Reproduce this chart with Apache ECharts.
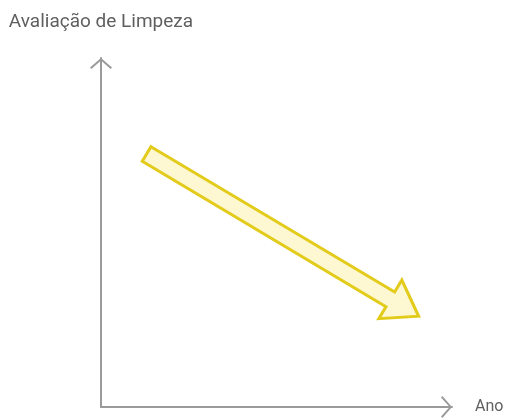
<!DOCTYPE html>
<html>
<head>
<meta charset="utf-8">
<script src="https://cdn.jsdelivr.net/npm/echarts@6/dist/echarts.min.js"></script>
<style>
  html, body { margin: 0; padding: 0; background: #fff; }
  #chart { width: 507px; height: 420px; }
</style>
</head>
<body>
<div id="chart"></div>
<script>
// trend arrow: start and end of the decline (data coords, axes 0..10)
const trendYears = [1.3, 9.05]
const trendScores = [7.25, 2.6]
const yAxisName = 'Avaliação de Limpeza'
const xAxisName = 'Ano'

const chevron = 'path://M0,9.6 L11,0 L22,9.6 L20.6,11 L11,2.4 L1.4,11 Z'

const chart = echarts.init(document.getElementById('chart'))

const axisCommon = {
  type: 'value',
  min: 0,
  max: 10,
  axisLine: {
    show: true,
    symbol: ['none', chevron],
    symbolSize: [22, 11],
    symbolOffset: [0, -5.5],
    lineStyle: { color: '#9a9a9a', width: 2 }
  },
  axisTick: { show: false },
  axisLabel: { show: false },
  splitLine: { show: false }
}

chart.setOption({
  animation: false,
  grid: { left: 101, right: 55, top: 58, bottom: 13 },
  xAxis: Object.assign({}, axisCommon, {
    name: xAxisName,
    nameGap: 23,
    nameTextStyle: { color: '#5f5f5f', fontSize: 16, fontFamily: 'Roboto' }
  }),
  yAxis: Object.assign({}, axisCommon, {
    name: yAxisName,
    nameGap: 26,
    nameTextStyle: { color: '#5f5f5f', fontSize: 19, fontFamily: 'Roboto' }
  }),
  series: [{
    type: 'custom',
    data: [[trendYears[0], trendScores[0], trendYears[1], trendScores[1]]],
    renderItem: (params, api) => {
      const p0 = api.coord([api.value(0), api.value(1)])
      const p1 = api.coord([api.value(2), api.value(3)])
      const dx = p1[0] - p0[0]
      const dy = p1[1] - p0[1]
      const len = Math.sqrt(dx * dx + dy * dy)
      const ux = dx / len, uy = dy / len
      const nx = -uy, ny = ux
      const shaftW = 8.5, headW = 22.5, headL = 33
      const bx = p1[0] - ux * headL, by = p1[1] - uy * headL
      const pt = (x, y, w) => [x + nx * w, y + ny * w]
      const points = [
        pt(p0[0], p0[1], -shaftW),
        pt(bx, by, -shaftW),
        pt(bx, by, -headW),
        p1,
        pt(bx, by, headW),
        pt(bx, by, shaftW),
        pt(p0[0], p0[1], shaftW)
      ]
      return {
        type: 'polygon',
        shape: { points },
        style: { fill: '#fdf7d2', stroke: '#e2cb1a', lineWidth: 3, lineJoin: 'miter' }
      }
    }
  }]
})
</script>
</body>
</html>
